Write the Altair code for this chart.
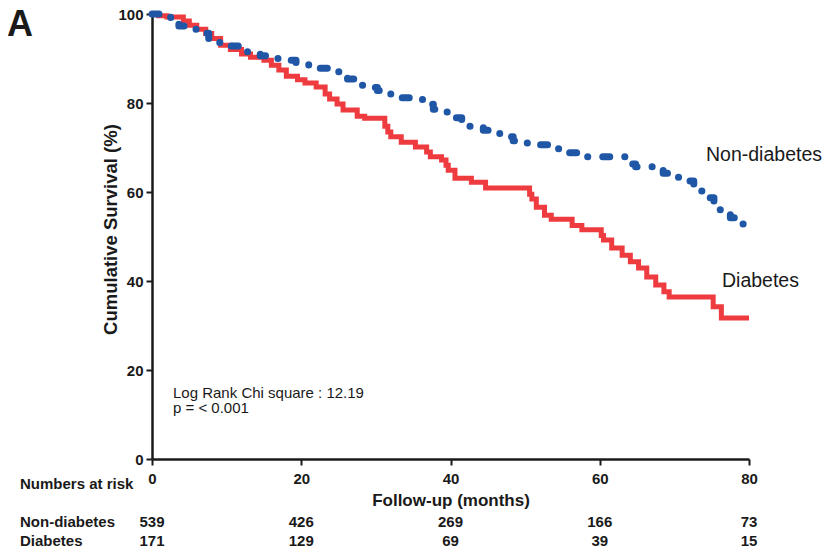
import altair as alt
import pandas as pd

# ---------------- data ----------------
diab_months = [0, 0.9, 2.0, 4.2, 5.0, 6.0, 7.2, 8.0, 9.2, 10.5, 12.0, 13.2, 15.0, 16.0, 17.0,
               18.0, 19.5, 20.5, 22.0, 23.2, 23.8, 24.8, 25.6, 27.5, 28.5, 31.2, 31.6, 32.0,
               33.4, 35.3, 36.8, 37.3, 38.8, 39.4, 39.7, 40.6, 42.8, 44.7, 50.6, 50.9, 51.5,
               52.6, 53.5, 56.3, 57.6, 60.2, 60.5, 61.6, 63.0, 64.1, 65.2, 66.3, 67.5, 68.6,
               69.3, 75.2, 76.3, 80.0]
diab_surv = [100, 99.6, 99.3, 98.4, 97.5, 96.6, 95.6, 94.5, 93.0, 92.0, 91.0, 90.3, 89.6, 88.5,
             87.4, 86.0, 85.2, 84.5, 83.6, 82.0, 80.9, 79.8, 78.4, 77.0, 76.6, 74.8, 73.5, 72.4,
             71.2, 70.1, 69.0, 67.9, 67.2, 66.0, 64.9, 63.1, 62.2, 60.9, 59.5, 58.4, 56.6,
             54.8, 53.9, 52.5, 51.5, 50.2, 49.2, 47.4, 45.8, 44.3, 42.9, 40.9, 39.1, 37.6,
             36.4, 34.2, 31.7, 31.7]

nond_months = [0, 1.5, 2.5, 3.6, 5.2, 6.2, 7.6, 8.2, 10.5, 12.2, 12.8, 14.5, 16.5, 17.5, 19.3,
               21.0, 22.0, 24.0, 25.3, 26.2, 28.0, 29.5, 30.2, 32.0, 33.5, 35.0, 36.3, 37.7,
               38.5, 40.3, 41.5, 42.5, 44.4, 45.8, 46.6, 48.4, 50.0, 51.5, 53.1, 54.5, 55.8,
               57.4, 64.3, 64.8, 67.1, 68.5, 69.2, 71.2, 72.6, 73.2, 74.5, 75.3, 75.9, 77.5,
               78.5, 79.3, 80.0]
nond_surv = [100, 99.6, 98.9, 97.3, 96.6, 95.7, 94.2, 93.6, 92.8, 92.0, 91.5, 90.6, 90.0, 89.6,
             89.0, 88.3, 87.8, 87.0, 86.0, 85.4, 84.0, 83.5, 82.8, 81.7, 81.2, 80.8, 79.7, 78.6,
             78.0, 76.7, 75.5, 74.8, 73.9, 73.2, 72.4, 71.5, 71.0, 70.6, 69.7, 69.2, 68.8,
             67.9, 66.3, 65.7, 65.2, 64.2, 63.3, 62.5, 61.3, 60.2, 58.7, 57.3, 56.0, 54.2,
             52.8, 52.4, 52.2]

x_ticks = [0, 20, 40, 60, 80]
y_ticks = [0, 20, 40, 60, 80, 100]
risk_nond = [539, 426, 269, 166, 73]
risk_diab = [171, 129, 69, 39, 15]

RED = "#EE3B3F"
BLUE = "#1F56A6"
INK = "#1a1a1a"
FONT = "Liberation Sans"

diab_df = pd.DataFrame({"month": diab_months, "surv": diab_surv})
nond_df = pd.DataFrame({"month": nond_months, "surv": nond_surv})
risk_df = pd.DataFrame({"month": x_ticks,
                        "nond": [str(v) for v in risk_nond],
                        "diab": [str(v) for v in risk_diab]})

xscale = alt.Scale(domain=[0, 80], nice=False, zero=False)
yscale = alt.Scale(domain=[0, 100], nice=False)

xaxis = alt.Axis(values=x_ticks, grid=False, labelFont=FONT, labelFontSize=15,
                 labelFontWeight="bold", labelColor=INK, labelPadding=6, labelFlush=False,
                 tickSize=6, tickWidth=2, tickColor=INK, domainColor=INK, domainWidth=2.5,
                 title="Follow-up (months)", titleFont=FONT, titleFontSize=17,
                 titleFontWeight="bold", titleColor=INK, titlePadding=6)
yaxis = alt.Axis(values=y_ticks, grid=False, labelFont=FONT, labelFontSize=15,
                 labelFontWeight="bold", labelColor=INK, labelPadding=3, labelFlush=False,
                 tickSize=6, tickWidth=2, tickColor=INK, domainColor=INK, domainWidth=2.5,
                 title="Cumulative Survival (%)", titleFont=FONT, titleFontSize=18.5,
                 titleFontWeight="bold", titleColor=INK, titleX=-36, titleY=215,
                 titleAngle=270, titleBaseline="alphabetic", titleAlign="center")

red_line = alt.Chart(diab_df).mark_line(
    color=RED, strokeWidth=5, interpolate="step-after", strokeCap="butt", strokeJoin="miter"
).encode(
    x=alt.X("month:Q", scale=xscale, axis=xaxis),
    y=alt.Y("surv:Q", scale=yscale, axis=yaxis),
)

blue_line = alt.Chart(nond_df).mark_line(
    color=BLUE, strokeWidth=7, interpolate="step-after", strokeCap="round",
    strokeJoin="round", strokeDash=[7, 15, 0.1, 15]
).encode(
    x=alt.X("month:Q", scale=xscale),
    y=alt.Y("surv:Q", scale=yscale),
)

def label(text, x, y, size, weight="normal", align="left", baseline="middle", **kw):
    return alt.Chart(pd.DataFrame({"t": [text]})).mark_text(
        font=FONT, fontSize=size, fontWeight=weight, color=INK, align=align,
        baseline=baseline, clip=False, **kw
    ).encode(x=alt.value(x), y=alt.value(y), text="t:N")

# texts (pixel positions relative to the plot area)
panel = label("A", -145, 22, 36, "bold", baseline="alphabetic")
logrank = label("Log Rank Chi square : 12.19\np = < 0.001", 21, 378.5, 15,
                lineBreak="\n", lineHeight=15)
lab_nd = label("Non-diabetes", 554, 141, 19.5)
lab_d = label("Diabetes", 570, 267, 19.5)
nar = label("Numbers at risk", -132, 470, 15, "bold")
row_nd = label("Non-diabetes", -132, 508, 15, "bold")
row_d = label("Diabetes", -132, 527, 15, "bold")

risk_nd = alt.Chart(risk_df).mark_text(
    font=FONT, fontSize=15, fontWeight="bold", color=INK, align="center",
    baseline="middle", clip=False
).encode(x=alt.X("month:Q", scale=xscale), y=alt.value(508), text="nond:N")
risk_d = alt.Chart(risk_df).mark_text(
    font=FONT, fontSize=15, fontWeight="bold", color=INK, align="center",
    baseline="middle", clip=False
).encode(x=alt.X("month:Q", scale=xscale), y=alt.value(527), text="diab:N")

chart = alt.layer(
    red_line, blue_line, panel, logrank, lab_nd, lab_d, nar, row_nd, row_d, risk_nd, risk_d
).properties(
    width=597, height=445,
    autosize=alt.AutoSizeParams(type="none"),
    padding={"left": 144, "top": 6, "right": 73, "bottom": 92},
    background="white",
).configure_view(stroke=None)

chart.save("out.html", embed_options={"renderer": "svg", "actions": False})
